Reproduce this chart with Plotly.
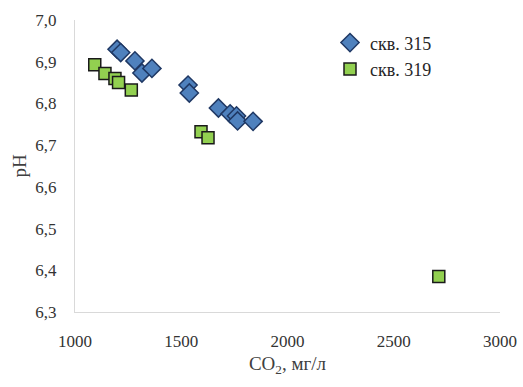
import plotly.graph_objects as go

co2_315 = [1198, 1215, 1282, 1315, 1362, 1532, 1538, 1675, 1730, 1760, 1765, 1838]
ph_315 = [6.930, 6.922, 6.902, 6.873, 6.884, 6.844, 6.825, 6.789, 6.775, 6.770, 6.758, 6.757]

co2_319 = [1093, 1141, 1188, 1205, 1265, 1593, 1626, 2712]
ph_319 = [6.893, 6.872, 6.860, 6.850, 6.832, 6.732, 6.718, 6.385]

x_ticks = [1000, 1500, 2000, 2500, 3000]
y_ticks = [6.3, 6.4, 6.5, 6.6, 6.7, 6.8, 6.9, 7.0]

font = "Liberation Serif"
tick_font = "Times New Roman, Liberation Serif, serif"

fig = go.Figure()
fig.add_trace(go.Scatter(
    x=co2_315, y=ph_315, mode="markers", name="скв. 315",
    marker=dict(symbol="diamond", size=14, color="#4F81BD",
                line=dict(color="#1F3864", width=1.5)),
))
fig.add_trace(go.Scatter(
    x=co2_319, y=ph_319, mode="markers", name="скв. 319",
    marker=dict(symbol="square", size=12, color="#92D050",
                line=dict(color="#1a1a1a", width=1.5)),
))

fig.update_layout(
    width=523, height=387,
    margin=dict(l=75, r=23, t=20, b=75, autoexpand=False),
    paper_bgcolor="white", plot_bgcolor="white",
    separators=", ",
    font=dict(family=font, size=16, color="#404040"),
    showlegend=True,
    legend=dict(x=0.6, y=0.985, xanchor="left", yanchor="top",
                bgcolor="rgba(0,0,0,0)", font=dict(family=font, size=18, color="#262626"),
                itemwidth=30, tracegroupgap=0),
    xaxis=dict(range=[1000, 3000], tickvals=x_ticks, showgrid=False, zeroline=False,
               showline=True, linecolor="#d9d9d9", linewidth=1, ticks="",
               ticklabelstandoff=14,
               title=dict(text="CO<sub>2</sub>, мг/л", font=dict(family=font, size=19, color="#404040"), standoff=6),
               tickfont=dict(family=tick_font, size=17, color="#333333")),
    yaxis=dict(range=[6.3, 7.0], tickvals=y_ticks, tickformat=".1f", showgrid=False, zeroline=False,
               showline=True, linecolor="#d9d9d9", linewidth=1, ticks="",
               ticklabelstandoff=14,
               title=dict(text="pH", font=dict(family=font, size=19, color="#404040"), standoff=3),
               tickfont=dict(family=tick_font, size=17, color="#333333")),
)

fig.write_html("out.html", config={"displayModeBar": False},
               post_script="document.body.style.margin='0';document.body.style.overflow='hidden';")
